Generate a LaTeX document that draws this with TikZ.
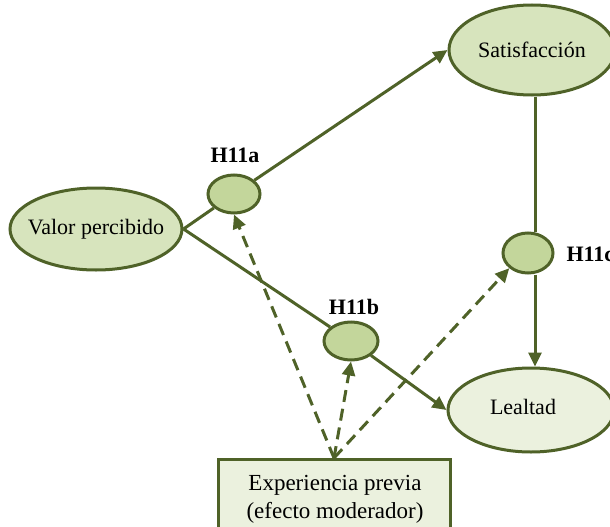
\documentclass[tikz,border=0pt]{standalone}
\usepackage{fontspec}
\setmainfont{Liberation Serif}
\usetikzlibrary{arrows.meta,shapes.geometric}
\definecolor{olivedark}{HTML}{4F6228}
\definecolor{olivemid}{HTML}{D7E4BD}
\definecolor{olivelight}{HTML}{EBF1DE}
\definecolor{olivenode}{HTML}{C3D69B}
\newcommand{\nowidth}[1]{\makebox[0pt]{#1}}
\begin{document}
\begin{tikzpicture}[x=1pt,y=-1pt,
  construct/.style={ellipse, draw=olivedark, line width=3pt, inner sep=0pt,
    font=\fontsize{22}{24}\selectfont},
  modnode/.style={ellipse, draw=olivedark, fill=olivenode, line width=3pt,
    inner sep=0pt},
  hyplabel/.style={font=\fontsize{22}{24}\selectfont\bfseries},
  link/.style={draw=olivedark, line width=3pt},
  effect/.style={link, -{Triangle[length=14pt,width=13pt]}},
  moderation/.style={link, dash pattern=on 12pt off 7pt,
    -{Triangle[length=14pt,width=13pt]}},
]
\useasboundingbox (0,0) rectangle (610,527);
\clip (0,0) rectangle (610,527);
% constructs
\node[construct, fill=olivemid, minimum width=172pt, minimum height=82pt] (valor) at (96,229)
  {\raisebox{3pt}{\nowidth{Valor percibido}}};
\node[construct, fill=olivemid, minimum width=166pt, minimum height=90pt] (satis) at (532,50)
  {\nowidth{Satisfacción}};
\node[construct, fill=olivelight, minimum width=166pt, minimum height=84pt] (leal) at (531,410)
  {\raisebox{6pt}{\nowidth{\hspace*{-16pt}Lealtad}}};
% moderating box
\node[draw=olivedark, fill=olivelight, line width=3pt, minimum width=232pt,
  minimum height=84pt, anchor=north, inner sep=0pt] (exp) at (334,458) {};
\node[align=center, inner sep=0pt, font=\fontsize{23}{28}\selectfont]
  (exptext) at (335,499) {Experiencia previa\\(efecto moderador)};
% hypothesis points
\node[modnode, minimum width=52pt, minimum height=38pt] (ha) at (234,194) {};
\node[modnode, minimum width=54pt, minimum height=38pt] (hb) at (351,341) {};
\node[modnode, minimum width=50pt, minimum height=40pt] (hc) at (528,253) {};
\node[hyplabel] (la) at (235,155) {H11a};
\node[hyplabel] (lb) at (354,307) {H11b};
\node[hyplabel, anchor=west] (lc) at (563,254) {H11c};
% structural paths
\draw[link] (valor.east) -- (ha);
\draw[effect] (ha) -- (satis.west);
\draw[link] (valor.east) -- (hb);
\draw[effect] (hb) -- (leal.west);
\coordinate (s1) at (535,0);
\draw[link] (satis.south -| s1) -- (hc.north -| s1);
\draw[effect] (hc.south -| s1) -- (leal.north -| s1);
% moderating effects
\draw[moderation] (exp.north) -- (ha.south);
\draw[moderation] (exp.north) -- (hb.south);
\draw[moderation] (exp.north) -- (hc.south west);
\end{tikzpicture}
\end{document}
